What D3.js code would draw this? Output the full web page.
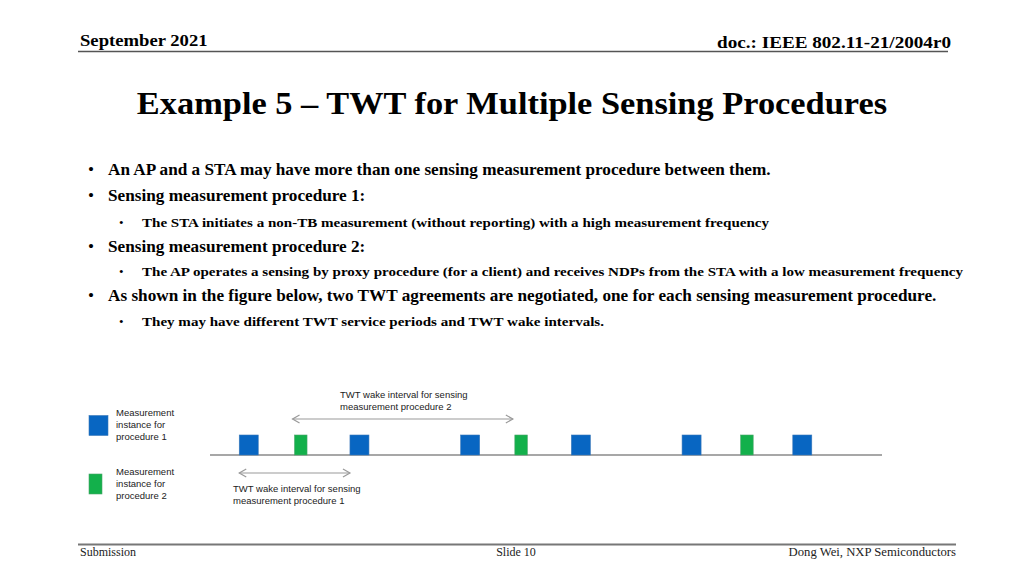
<!DOCTYPE html>
<html><head><meta charset="utf-8">
<script src="https://cdn.jsdelivr.net/npm/d3@7"></script>
<style>html,body{margin:0;padding:0;background:#fff;}svg{display:block;}</style>
</head><body>
<script>
// ---- data ----
const headerLeft = "September 2021";
const headerRight = "doc.: IEEE 802.11-21/2004r0";
const title = "Example 5 \u2013 TWT for Multiple Sensing Procedures";
const bullets = [
  {level: 1, text: "An AP and a STA may have more than one sensing measurement procedure between them."},
  {level: 1, text: "Sensing measurement procedure 1:"},
  {level: 2, text: "The STA initiates a non-TB measurement (without reporting) with a high measurement frequency"},
  {level: 1, text: "Sensing measurement procedure 2:"},
  {level: 2, text: "The AP operates a sensing by proxy procedure (for a client) and receives NDPs from the STA with a low measurement frequency"},
  {level: 1, text: "As shown in the figure below, two TWT agreements are negotiated, one for each sensing measurement procedure."},
  {level: 2, text: "They may have different TWT service periods and TWT wake intervals."}
];
// measurement instance times (in units of procedure-1 wake interval)
const proc1Times = [0, 1, 2, 3, 4, 5];
const proc2Times = [0.47, 2.46, 4.5];
const legendItems = [
  {proc: 1, lines: ["Measurement", "instance for", "procedure 1"]},
  {proc: 2, lines: ["Measurement", "instance for", "procedure 2"]}
];
const interval1Label = ["TWT wake interval for sensing", "measurement procedure 1"];
const interval2Label = ["TWT wake interval for sensing", "measurement procedure 2"];
const footer = {left: "Submission", center: "Slide 10", right: "Dong Wei, NXP Semiconductors"};

// ---- drawing ----
const W = 1024, H = 576;
const svg = d3.select("body").append("svg").attr("width", W).attr("height", H);
const serif = "'Liberation Serif','Times New Roman',serif";
const sans = "'Liberation Sans',Arial,sans-serif";
const blue = "#0866C2", green = "#13B04B";

// horizontal stretch helper (the slide's text is wider than the font's natural metrics)
function stretch(sel, k) {
  const n = sel.node();
  const w = n.getComputedTextLength();
  sel.attr("textLength", w * k).attr("lengthAdjust", "spacingAndGlyphs");
  return sel;
}

// header
stretch(svg.append("text").attr("x", 80).attr("y", 46).attr("font-family", serif).attr("font-weight", "bold")
  .attr("font-size", 16.5).text(headerLeft), 1.13);
const hr = svg.append("text").attr("x", 951).attr("y", 48).attr("text-anchor", "end").attr("font-family", serif)
  .attr("font-weight", "bold").attr("font-size", 16.5).text(headerRight);
stretch(hr, 1.16);
svg.append("line").attr("x1", 78).attr("x2", 948).attr("y1", 51.5).attr("y2", 51.5)
  .attr("stroke", "#555").attr("stroke-width", 1.5);

// title
stretch(svg.append("text").attr("x", 512).attr("y", 114).attr("text-anchor", "middle").attr("font-family", serif)
  .attr("font-weight", "bold").attr("font-size", 30.5).text(title), 1.127);

// bullets
const bulletY = [175, 201, 227, 252, 276, 301, 326];
const bg = svg.append("g").attr("font-family", serif).attr("font-weight", "bold");
bullets.forEach((b, i) => {
  const fs = b.level === 1 ? 17.2 : 13;
  const bx = b.level === 1 ? 88 : 119;
  const tx = b.level === 1 ? 108 : 142;
  bg.append("text").attr("x", bx).attr("y", bulletY[i]).attr("font-size", fs).attr("font-weight", "normal").text("\u2022");
  const t = bg.append("text").attr("x", tx).attr("y", bulletY[i]).attr("font-size", fs).text(b.text);
  if (b.level === 2) stretch(t, 1.157);
});

// timeline
const x = d3.scaleLinear().domain([-0.35, 5.72]).range([210, 882]);
const baseY = 455, boxH = 20, w1 = 19, w2 = 12.5;
svg.append("line").attr("x1", x.range()[0]).attr("x2", x.range()[1]).attr("y1", baseY).attr("y2", baseY)
  .attr("stroke", "#8a8a8a").attr("stroke-width", 1.3);
svg.selectAll("rect.p1").data(proc1Times).join("rect").attr("class", "p1")
  .attr("x", d => x(d) - w1 / 2).attr("y", baseY - boxH).attr("width", w1).attr("height", boxH)
  .attr("fill", blue).attr("stroke", "#3b78b8").attr("stroke-width", 0.6);
svg.selectAll("rect.p2").data(proc2Times).join("rect").attr("class", "p2")
  .attr("x", d => x(d) - w2 / 2).attr("y", baseY - boxH).attr("width", w2).attr("height", boxH)
  .attr("fill", green).attr("stroke", "#4aa56a").attr("stroke-width", 0.6);

// double arrows
function dblArrow(x1, x2, y) {
  const g = svg.append("g").attr("stroke", "#9a9a9a").attr("stroke-width", 1.2).attr("fill", "none");
  g.append("line").attr("x1", x1).attr("x2", x2).attr("y1", y).attr("y2", y);
  g.append("path").attr("d", `M${x1 + 7},${y - 4}L${x1},${y}L${x1 + 7},${y + 4}`);
  g.append("path").attr("d", `M${x2 - 7},${y - 4}L${x2},${y}L${x2 - 7},${y + 4}`);
}
dblArrow(x(proc1Times[0]) - w1 / 2, x(proc1Times[1]) - w1 / 2, 473);
dblArrow(x(proc2Times[0]) - w2 / 2 - 2, x(proc2Times[1]) - w2 / 2 - 2, 419);

function label(lines, lx, ly) {
  const t = svg.append("text").attr("font-family", sans).attr("font-size", 9.5).attr("fill", "#222");
  lines.forEach((l, i) => t.append("tspan").attr("x", lx).attr("y", ly + i * 12).text(l));
}
label(interval2Label, 340, 398);
label(interval1Label, 233, 492);

// legend
const legY = [415.5, 474];
legendItems.forEach((it, i) => {
  const w = it.proc === 1 ? w1 : 13;
  svg.append("rect").attr("x", 89).attr("y", legY[i]).attr("width", w).attr("height", 20)
    .attr("fill", it.proc === 1 ? blue : green).attr("stroke", it.proc === 1 ? "#3b78b8" : "#4aa56a").attr("stroke-width", 0.6);
  label(it.lines, 116, legY[i] + 0.5);
});

// footer
svg.append("line").attr("x1", 78).attr("x2", 956).attr("y1", 544.5).attr("y2", 544.5)
  .attr("stroke", "#777").attr("stroke-width", 2);
const ff = svg.append("g").attr("font-family", serif).attr("font-size", 12).attr("fill", "#222");
ff.append("text").attr("x", 80).attr("y", 556).text(footer.left);
ff.append("text").attr("x", 516).attr("y", 556).attr("text-anchor", "middle").text(footer.center);
stretch(ff.append("text").attr("x", 956).attr("y", 556).attr("text-anchor", "end").text(footer.right), 1.057);
</script>
</body></html>
